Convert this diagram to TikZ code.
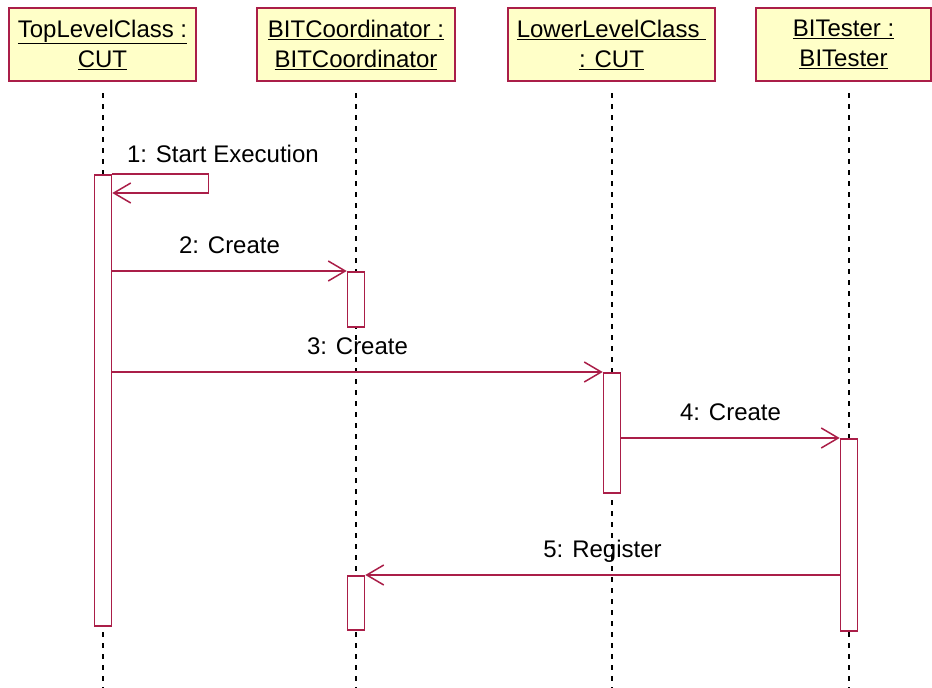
\documentclass[tikz,border=0pt]{standalone}
\usepackage{fontspec}
\setmainfont{Liberation Sans}
\usetikzlibrary{arrows.meta}
\definecolor{umlline}{RGB}{170,30,72}
\definecolor{umlfill}{RGB}{255,255,200}
\tikzset{
  object/.style={draw=umlline, fill=umlfill, line width=1.6pt, align=center,
    minimum height=73pt, inner sep=0pt, font=\fontsize{24}{30}\selectfont},
  lifeline/.style={black, line width=2pt, dash pattern=on 5pt off 6pt},
  activation/.style={draw=umlline, fill=white, line width=1.6pt, minimum width=17pt,
    inner sep=0pt, anchor=north},
  msg/.style={umlline, line width=1.5pt, -{Straight Barb[length=17pt,width=20pt,line width=1.5pt]}},
  msglabel/.style={anchor=base, inner sep=0pt, yshift=18pt, text=black, font=\fontsize{24}{30}\selectfont}
}
\begin{document}
\begin{tikzpicture}[x=1pt,y=-1pt]
\useasboundingbox (0,0) rectangle (932,688);
% objects
\node[object, minimum width=187pt] (top) at (102.5,44.5) {\underline{TopLevelClass :}\\\underline{CUT}};
\node[object, minimum width=198pt] (coord) at (356,44.5) {\underline{BITCoordinator :}\\\underline{BITCoordinator}};
\node[object, minimum width=207pt] (lower) at (611.5,44.5) {\underline{LowerLevelClass }\\\underline{: CUT}};
\node[object, minimum width=175pt] (tester) at (843.5,44.5) {\underline{BITester :}\\\underline{BITester}};
% lifelines
\coordinate (ltop) at (103,93);
\coordinate (lcoord) at (356,93);
\coordinate (llower) at (612,93);
\coordinate (ltester) at (849,93);
\draw[lifeline] (ltop) -- (ltop |- 0,688);
\draw[lifeline] (lcoord) -- (lcoord |- 0,688);
\draw[lifeline] (llower) -- (llower |- 0,688);
\draw[lifeline] (ltester) -- (ltester |- 0,688);
% activations
\node[activation, minimum height=451pt] (acttop) at (ltop |- 0,174) {};
\node[activation, minimum height=55pt] (actcoorda) at (lcoord |- 0,271) {};
\node[activation, minimum height=120pt] (actlower) at (llower |- 0,372) {};
\node[activation, minimum height=192pt] (acttester) at (ltester |- 0,438) {};
\node[activation, minimum height=54pt] (actcoordb) at (lcoord |- 0,575) {};
% messages
\draw[msg] (acttop.north east) -- ++(96,0)
  node[msglabel, pos=0, anchor=base west, xshift=14pt, yshift=-6pt] {1: Start Execution}
  |- ([yshift=-19pt]acttop.north east);
\draw[msg] (acttop.east |- actcoorda.north) -- (actcoorda.north west) node[msglabel, midway] {2: Create};
\draw[msg] (acttop.east |- actlower.north) -- (actlower.north west) node[msglabel, midway] {3: Create};
\draw[msg] (actlower.east |- acttester.north) -- (acttester.north west) node[msglabel, midway] {4: Create};
\draw[msg] (acttester.west |- actcoordb.north) -- (actcoordb.north east) node[msglabel, midway] {5: Register};
\end{tikzpicture}
\end{document}
